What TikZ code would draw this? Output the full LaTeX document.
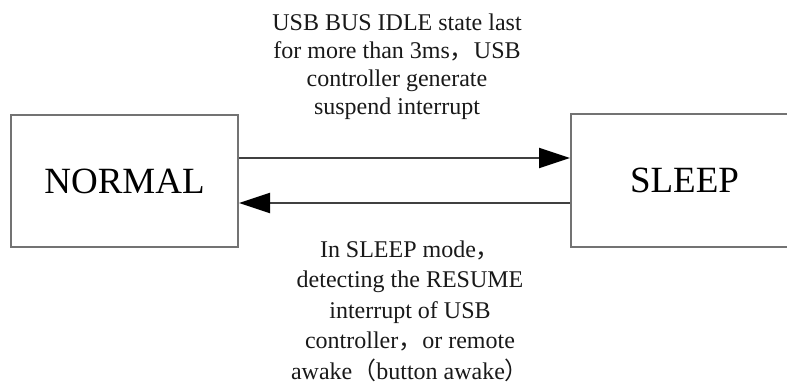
\documentclass[tikz,border=0pt]{standalone}
\usepackage{fontspec}
\setmainfont{Liberation Serif}
\newfontfamily\cjk{Noto Sans CJK SC}
\usetikzlibrary{arrows.meta}

\begin{document}
\begin{tikzpicture}[x=1pt,y=-1pt,
    state/.style={draw=black!55,line width=2pt,minimum width=227pt,minimum height=132pt,
      inner sep=0pt,font=\fontsize{37}{40}\selectfont},
    trans/.style={draw=black!75,line width=2pt,-{Triangle[length=31pt,width=20pt,black]}},
    note/.style={align=center,inner sep=0pt,text=black!90,font=\fontsize{24}{28}\selectfont}]
    \useasboundingbox (0,0) rectangle (787,385);
    \clip (0,0) rectangle (787,385);
    \node[state] (normal) at (124.5,181) {NORMAL};
    \node[state] (sleep) at (684.5,180.5) {SLEEP};
    \draw [trans] ([yshift=23pt]normal.east)--([yshift=22.5pt]sleep.west);
    \draw [trans] ([yshift=-22.5pt]sleep.west)--([yshift=-22pt]normal.east);
    \node[note] (suspend) at (397,67) {USB BUS IDLE state last\\
      for more than 3ms{\cjk ，}USB\\ controller generate\\ suspend interrupt};
    \node[note,font=\fontsize{24}{30.5}\selectfont] (resume) at (410,311) {In SLEEP mode{\cjk ，}\\
      detecting the RESUME\\ interrupt of USB\\ controller{\cjk ，}or remote\\
      awake{\cjk （}button awake{\cjk ）}};
  \end{tikzpicture}
\end{document}
